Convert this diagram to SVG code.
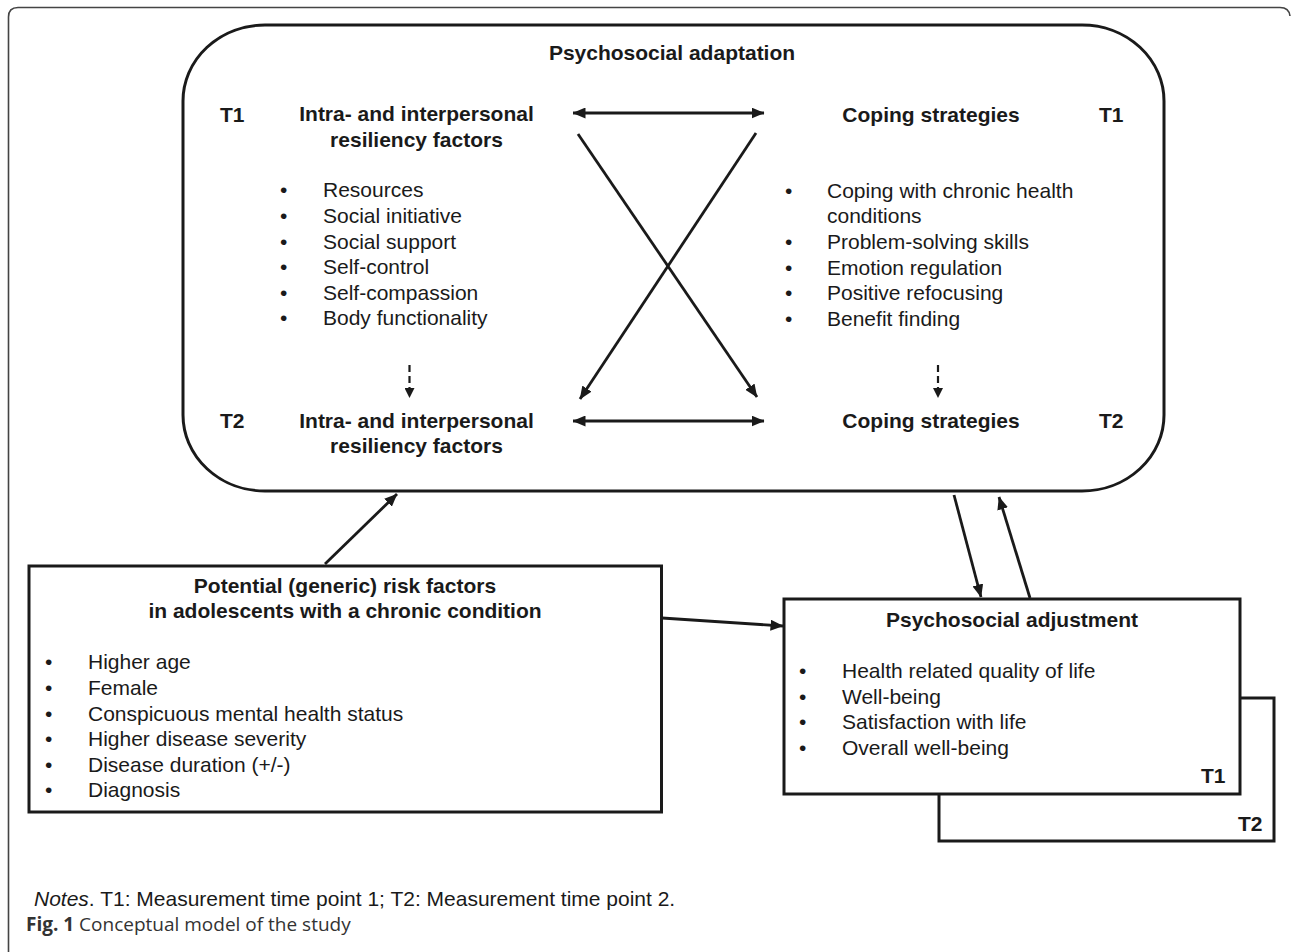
<svg xmlns="http://www.w3.org/2000/svg" width="1292" height="952" viewBox="0 0 1292 952">
<style>
.b{font-family:"Liberation Sans",Arial,sans-serif;font-size:21px;font-weight:bold;fill:#1a1a1a}
.r{font-family:"Liberation Sans",Arial,sans-serif;font-size:21px;fill:#1a1a1a}
.box{fill:#fff;stroke:#1a1a1a;stroke-width:3}
.ln{fill:none;stroke:#1a1a1a;stroke-width:2.8}
.dash{fill:none;stroke:#1a1a1a;stroke-width:2.2;stroke-dasharray:7 4}
.cap{font-family:"Open Sans","Liberation Sans",sans-serif;font-size:19px;fill:#333}
</style>
<defs>
<marker id="ah" viewBox="0 0 13 11" refX="12.5" refY="5.5" markerWidth="13" markerHeight="11" markerUnits="userSpaceOnUse" orient="auto-start-reverse">
<path d="M0,0 L13,5.5 L0,11 z" fill="#1a1a1a"/>
</marker>
<marker id="ahs" viewBox="0 0 10 10" refX="10" refY="5" markerWidth="10" markerHeight="10" markerUnits="userSpaceOnUse" orient="auto">
<path d="M0,0 L10,5 L0,10 z" fill="#1a1a1a"/>
</marker>
</defs>
<rect width="1292" height="952" fill="#fff"/>
<path d="M8.5,952 L8.5,17 Q8.5,7.5 18,7.5 L1280,7.5 Q1289,7.5 1290,16" fill="none" stroke="#444" stroke-width="1.6"/>

<g id="adaptation">
<rect class="box" x="183" y="25" width="981" height="466" rx="82" ry="76"/>
<text class="b" x="672" y="60" text-anchor="middle">Psychosocial adaptation</text>
</g>

<g id="resiliency-t1">
<text class="b" x="220" y="122">T1</text>
<text class="b" x="416.5" y="121" text-anchor="middle">Intra- and interpersonal</text>
<text class="b" x="416.5" y="147" text-anchor="middle">resiliency factors</text>
<g class="r">
<text x="280" y="197">•</text><text x="323" y="197">Resources</text>
<text x="280" y="223">•</text><text x="323" y="223">Social initiative</text>
<text x="280" y="249">•</text><text x="323" y="249">Social support</text>
<text x="280" y="274">•</text><text x="323" y="274">Self-control</text>
<text x="280" y="300">•</text><text x="323" y="300">Self-compassion</text>
<text x="280" y="325">•</text><text x="323" y="325">Body functionality</text>
</g>
</g>

<g id="coping-t1">
<text class="b" x="931" y="122" text-anchor="middle">Coping strategies</text>
<text class="b" x="1099" y="122">T1</text>
<g class="r">
<text x="785" y="198">•</text><text x="827" y="198">Coping with chronic health</text>
<text x="827" y="223">conditions</text>
<text x="785" y="249">•</text><text x="827" y="249">Problem-solving skills</text>
<text x="785" y="275">•</text><text x="827" y="275">Emotion regulation</text>
<text x="785" y="300">•</text><text x="827" y="300">Positive refocusing</text>
<text x="785" y="326">•</text><text x="827" y="326">Benefit finding</text>
</g>
</g>

<g id="resiliency-t2">
<text class="b" x="220" y="428">T2</text>
<text class="b" x="416.5" y="428" text-anchor="middle">Intra- and interpersonal</text>
<text class="b" x="416.5" y="453" text-anchor="middle">resiliency factors</text>
</g>

<g id="coping-t2">
<text class="b" x="931" y="428" text-anchor="middle">Coping strategies</text>
<text class="b" x="1099" y="428">T2</text>
</g>

<g id="risk-factors">
<rect class="box" x="29" y="566" width="632.5" height="246"/>
<text class="b" x="345" y="593" text-anchor="middle">Potential (generic) risk factors</text>
<text class="b" x="345" y="618" text-anchor="middle">in adolescents with a chronic condition</text>
<g class="r">
<text x="45" y="669">•</text><text x="88" y="669">Higher age</text>
<text x="45" y="695">•</text><text x="88" y="695">Female</text>
<text x="45" y="721">•</text><text x="88" y="721">Conspicuous mental health status</text>
<text x="45" y="746">•</text><text x="88" y="746">Higher disease severity</text>
<text x="45" y="772">•</text><text x="88" y="772">Disease duration (+/-)</text>
<text x="45" y="797">•</text><text x="88" y="797">Diagnosis</text>
</g>
</g>

<g id="adjustment">
<rect class="box" x="939" y="698" width="335" height="143"/>
<text class="b" x="1238" y="831">T2</text>
<rect class="box" x="784" y="599" width="456" height="195"/>
<text class="b" x="1012" y="627" text-anchor="middle">Psychosocial adjustment</text>
<g class="r">
<text x="799" y="678">•</text><text x="842" y="678">Health related quality of life</text>
<text x="799" y="704">•</text><text x="842" y="704">Well-being</text>
<text x="799" y="729">•</text><text x="842" y="729">Satisfaction with life</text>
<text x="799" y="755">•</text><text x="842" y="755">Overall well-being</text>
</g>
<text class="b" x="1201" y="783">T1</text>
</g>

<g id="connectors">
<line class="ln" x1="573" y1="113" x2="764" y2="113" marker-start="url(#ah)" marker-end="url(#ah)"/>
<line class="ln" x1="573" y1="421" x2="764" y2="421" marker-start="url(#ah)" marker-end="url(#ah)"/>
<line class="ln" x1="578" y1="134" x2="757" y2="397" marker-end="url(#ah)"/>
<line class="ln" x1="756" y1="133" x2="580" y2="399" marker-end="url(#ah)"/>
<line class="dash" x1="409.5" y1="365" x2="409.5" y2="398" marker-end="url(#ahs)"/>
<line class="dash" x1="938" y1="365" x2="938" y2="398" marker-end="url(#ahs)"/>
<line class="ln" x1="325" y1="564" x2="397" y2="494" marker-end="url(#ah)"/>
<line class="ln" x1="662" y1="618" x2="783" y2="626" marker-end="url(#ah)"/>
<line class="ln" x1="954" y1="495" x2="981" y2="597" marker-end="url(#ah)"/>
<line class="ln" x1="1030" y1="598" x2="999" y2="497" marker-end="url(#ah)"/>
</g>

<g id="notes">
<text class="r" x="34" y="906"><tspan font-style="italic">Notes</tspan>. T1: Measurement time point 1; T2: Measurement time point 2.</text>
<text class="cap" x="26" y="931"><tspan font-weight="bold">Fig. 1</tspan> Conceptual model of the study</text>
</g>
</svg>
